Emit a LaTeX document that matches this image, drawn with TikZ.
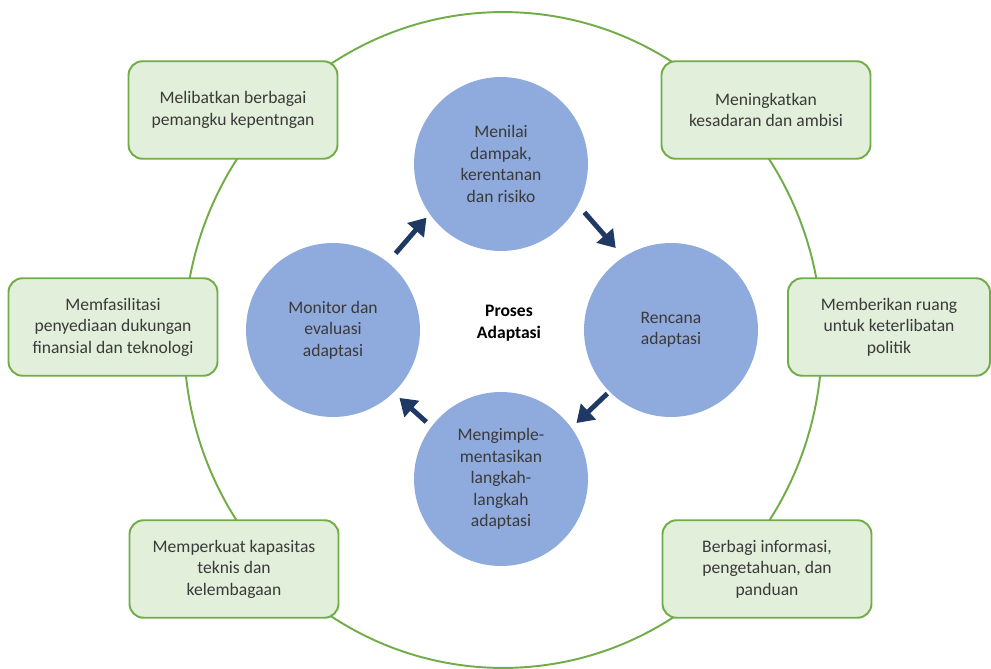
\documentclass[tikz,border=0pt]{standalone}
\usepackage{fontspec}
\setmainfont{Carlito}
\usetikzlibrary{arrows.meta}

\begin{document}
\begin{tikzpicture}[x=0.02cm,y=-0.02cm,font=\fontsize{10}{12.2}\selectfont,
   aksi/.style={draw=ijo, fill=ijomuda, line width=1.1pt, rounded corners=0.28cm,
      minimum width=4.18cm, minimum height=1.95cm, align=center, text=teks, inner sep=2pt},
   tahap/.style={circle, fill=biru, minimum size=3.48cm, inner sep=0pt, outer sep=0pt,
      align=center, text=teks},
   alir/.style={-{Triangle[length=9.5pt,width=12pt]}, line width=2.8pt, draw=navy}]
   \definecolor{ijo}{HTML}{70AD47}
   \definecolor{ijomuda}{HTML}{E2EFDA}
   \definecolor{biru}{HTML}{8FAADC}
   \definecolor{navy}{HTML}{203864}
   \definecolor{teks}{HTML}{3A3A3A}
   \useasboundingbox (0,0) rectangle (991,669);
   % lingkaran luar
   \coordinate (poros) at (503,340);
   \draw[ijo, line width=1.1pt] (poros) ellipse [x radius=6.38cm, y radius=6.56cm];
   % kotak-kotak aksi
   \node[aksi] (libat) at (233,110) {Melibatkan berbagai\\pemangku kepentngan};
   \node[aksi] (sadar) at (766,110) {Meningkatkan\\kesadaran dan ambisi};
   \node[aksi] (fasil) at (113,327) {Memfasilitasi\\penyediaan dukungan\\finansial dan teknologi};
   \node[aksi, minimum width=4.04cm] (ruang) at (889,327) {Memberikan ruang\\untuk keterlibatan\\politik};
   \node[aksi] (kuat) at (234,569) {Memperkuat kapasitas\\teknis dan\\kelembagaan};
   \node[aksi] (bagi) at (767,569) {Berbagi informasi,\\pengetahuan, dan\\panduan};
   % siklus adaptasi
   \node[tahap] (nilai) at (501,164) {Menilai\\dampak,\\kerentanan\\dan risiko};
   \node[tahap] (rencana) at (671,330) {Rencana\\adaptasi};
   \node[tahap] (terap) at (501,479) {Mengimple-\\mentasikan\\langkah-\\langkah\\adaptasi};
   \node[tahap] (monev) at (333,330) {Monitor dan\\evaluasi\\adaptasi};
   \node[font=\fontsize{10}{12.2}\selectfont\bfseries, align=center] (proses) at (509,323) {Proses\\Adaptasi};
   \draw[alir, shorten <=0.24cm, shorten >=0.1cm] (monev.51) -- (nilai.215);
   \draw[alir, shorten <=0.2cm, shorten >=0.24cm] (nilai.332) -- (rencana.123);
   \draw[alir, shorten <=0.06cm, shorten >=0.14cm] (rencana.225) -- (terap.36);
   \draw[alir, shorten <=0.14cm, shorten >=0.16cm] (terap.143) -- (monev.314);
\end{tikzpicture}
\end{document}
